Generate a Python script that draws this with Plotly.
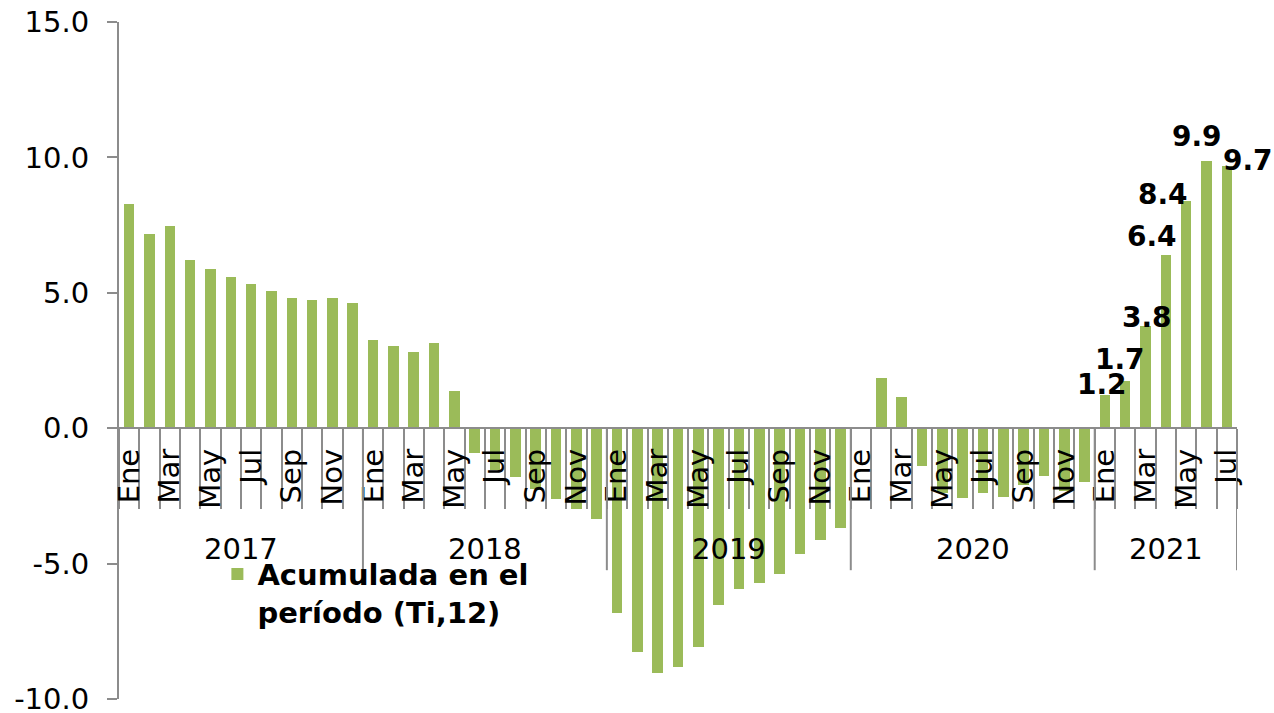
import plotly.graph_objects as go

# ---------------- data ----------------
years = ["2017", "2018", "2019", "2020", "2021"]
month_names = ["Ene", "Feb", "Mar", "Abr", "May", "Jun",
               "Jul", "Ago", "Sep", "Oct", "Nov", "Dic"]
months_per_year = [12, 12, 12, 12, 7]
shown_months = ["Ene", "Mar", "May", "Jul", "Sep", "Nov"]

values_2017 = [8.27, 7.16, 7.47, 6.22, 5.87, 5.60, 5.33, 5.07, 4.81, 4.73, 4.81, 4.63]
values_2018 = [3.26, 3.05, 2.81, 3.13, 1.36, -0.93, -1.55, -1.79, -2.25, -2.62, -3.00, -3.37]
values_2019 = [-6.81, -8.25, -9.05, -8.81, -8.07, -6.52, -5.95, -5.72, -5.37, -4.66, -4.14, -3.68]
values_2020 = [0.0, 1.84, 1.16, -1.39, -2.40, -2.58, -2.41, -2.53, -2.10, -1.78, -2.31, -1.97]
values_2021 = [1.24, 1.73, 3.78, 6.41, 8.40, 9.87, 9.67]

labelled_year = "2021"
series_name = "Acumulada en el<br>período (Ti,12)"

y_ticks = [-10, -5, 0, 5, 10, 15]
y_ticktext = [f"{v:.1f}" for v in y_ticks]

# ---------------- build ----------------
values = values_2017 + values_2018 + values_2019 + values_2020 + values_2021
month_list = []
year_list = []
for yr, n in zip(years, months_per_year):
    month_list += month_names[:n]
    year_list += [yr] * n
x_idx = list(range(len(values)))

tickvals = [i for i, m in enumerate(month_list) if m in shown_months]
ticktext = [month_list[i] for i in tickvals]

GREEN = "#9BBB59"
GRAY = "#8C8C8C"
FONT = "DejaVu Sans"
FS = 29

fig = go.Figure()
fig.add_trace(go.Bar(
    x=x_idx, y=values, width=0.52,
    marker=dict(color=GREEN, line=dict(width=0)),
    name=series_name, showlegend=True,
))

# data labels (2021)
label_shifts = [(-3, 10), (-5, 22), (1, 8), (-14, 18), (-23, 6), (-10, 24), (21, 6)]
lab_idx = [i for i, y in enumerate(year_list) if y == labelled_year]
annotations = []
for k, i in enumerate(lab_idx):
    dx, dy = label_shifts[k]
    annotations.append(dict(
        x=i, y=values[i], xref="x", yref="y", text=f"{values[i]:.1f}",
        showarrow=False, xanchor="center", yanchor="middle",
        xshift=dx, yshift=dy,
        font=dict(family=FONT, size=28, color="black", weight="bold"),
    ))

# year group labels and dividers
shapes = []
start = 0
for yr, n in zip(years, months_per_year):
    center = start + (n - 1) / 2
    annotations.append(dict(
        x=center, y=0, xref="x", yref="y", text=yr, showarrow=False,
        xanchor="center", yanchor="middle", yshift=-121,
        font=dict(family=FONT, size=FS, color="black"),
    ))
    end = start + n - 0.5
    shapes.append(dict(
        type="line", xref="x", yref="y", ysizemode="pixel", yanchor=0,
        x0=end, x1=end, y0=0, y1=-142,
        line=dict(color=GRAY, width=2),
    ))
    start += n

n_cat = len(values)
fig.update_layout(
    width=1274, height=713,
    margin=dict(l=119, r=37, t=22, b=14, autoexpand=False),
    paper_bgcolor="white", plot_bgcolor="white",
    font=dict(family=FONT, size=FS, color="black"),
    bargap=0,
    annotations=annotations, shapes=shapes,
    legend=dict(
        x=0.088, y=0.222, xanchor="left", yanchor="top",
        bgcolor="rgba(0,0,0,0)", valign="top",
        font=dict(family=FONT, size=FS, color="black", weight="bold"),
        itemclick=False,
    ),
    xaxis=dict(
        range=[-0.5, n_cat - 0.5], anchor="free", position=10 / 25,
        automargin=False,
        showline=True, linecolor=GRAY, linewidth=2,
        showgrid=False, zeroline=False,
        tickmode="array", tickvals=tickvals, ticktext=ticktext,
        tickangle=-90, ticks="", ticklabelstandoff=8,
        tickfont=dict(family=FONT, size=FS, color="black"),
        minor=dict(tick0=-0.5, dtick=1, ticks="outside", ticklen=80,
                   tickwidth=2, tickcolor=GRAY, showgrid=False),
    ),
    yaxis=dict(
        range=[-10, 15], tickmode="array", tickvals=y_ticks,
        ticktext=y_ticktext, automargin=False, ticklabeloverflow="allow",
        showline=True, linecolor=GRAY, linewidth=2,
        ticks="outside", ticklen=10, tickwidth=2, tickcolor=GRAY,
        showgrid=False, zeroline=False, ticklabelstandoff=12,
        tickfont=dict(family=FONT, size=FS, color="black"),
    ),
)

fig.write_html(
    "out.html",
    config={"displayModeBar": False},
    post_script="document.body.style.margin='0';document.body.style.overflow='hidden';",
)
